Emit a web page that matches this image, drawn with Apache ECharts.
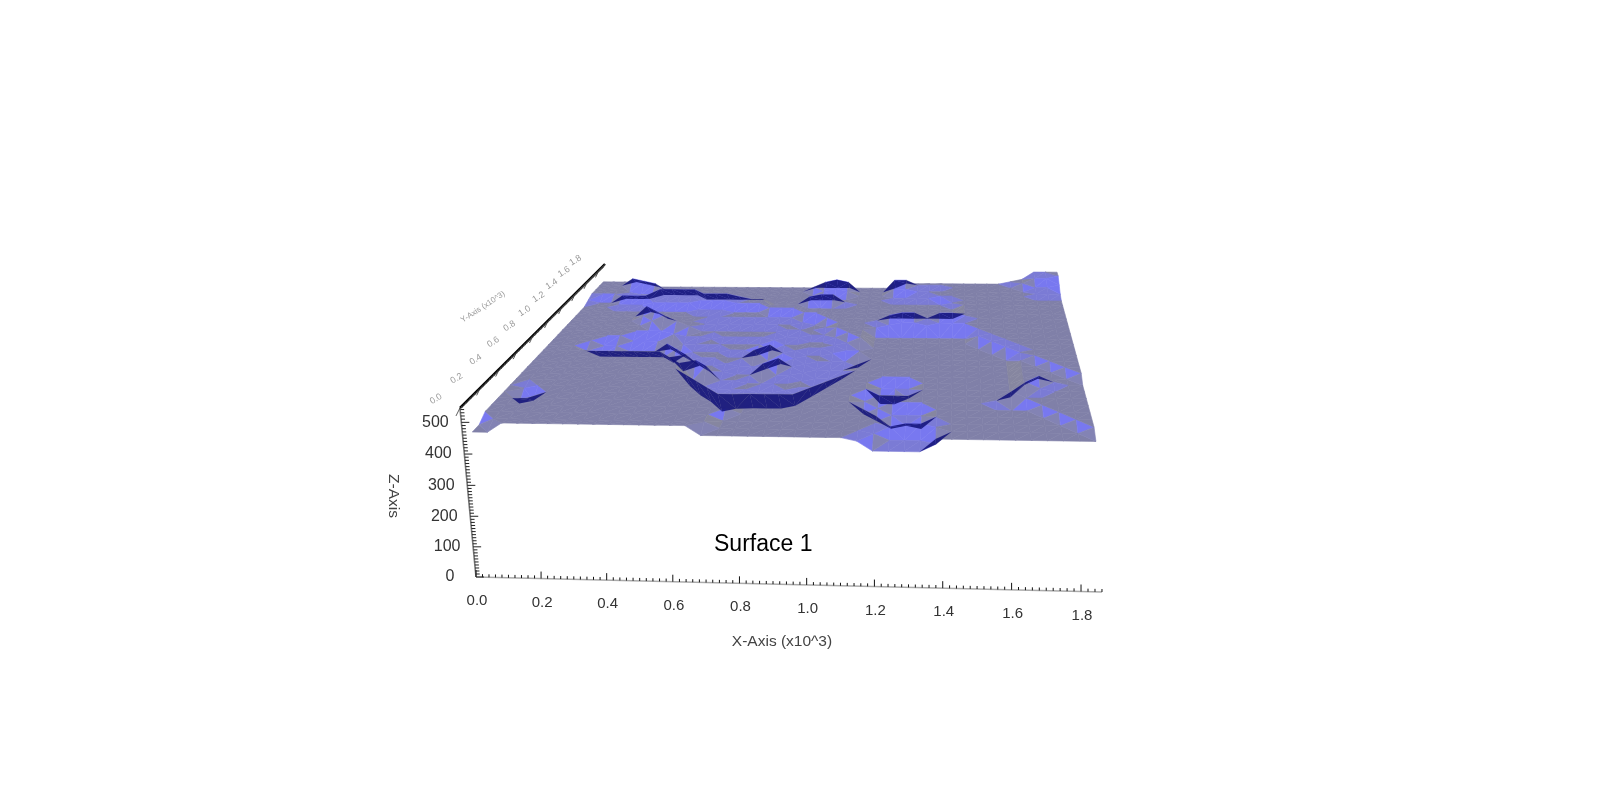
<!DOCTYPE html>
<html><head><meta charset="utf-8"><style>html,body{margin:0;background:#fff}#c{width:1616px;height:805px}</style>
<script src="https://cdn.jsdelivr.net/npm/echarts@6/dist/echarts.min.js"></script></head>
<body><div id="c"></div><script>
// Surface heights, far row first. '.'=plateau, 1-9 above it, a-l below it (steps of zStep). Columns grouped 9/16/16.
const surfaceRows=[
"22221.... ................ ..22222222234777",
"222543... ..........2454.. .553332222224667",
"2221..... ...........232.. .332222222222445",
"222...444 4............... .111122222222333",
"1..333333 3444322...3441.. ......1222222222",
"...111222 2333222111...... .......222222222",
"......... .111...22211.... .......222222222",
"......41. ..........221... .......222222222",
"......241 ..aaaaaaaa.a21.. 1344244322222222",
".......24 2.bbbbbbbaaa.21. .122122222222222",
"......... abbcbbbbcbbaa221 bbbbbbbb22222222",
"......bbb eccccccceccbb.21 bbbbbbbb12222222",
"....bbddd aedddcceadcbba.2 bbbbbbbbb1222222",
"...bddddd daeddddaefdccbaa bbbbbbbbbb122222",
"......... .daeedeefbedccce bbbbbbbbbbb12222",
"......... ..eaeeffbffedddb bbbbbbbbbbb.2222",
"......... ...faffggggfeeeb bbbbbbbbbbb..222",
"......... ...ffggghhgfffbb bbbbbbbbbbb...22",
"......... ....ghhhiihggbbb bdddbbbbbbb....2",
"......... .....ghiiiihbbbb bggebbbbbbb.31..",
".a....... ......hgbbbbbbbb dbbbbbbbbbb31...",
".dc...... ........bbbbbbbb fdbbbbbbba2.....",
"......... ........bbbbbbbb bfdddbbbbbbb....",
"......... ........bbbbbbbb bbfefbbbbbbbb...",
"......... .......bbbbbbbbb bbcbbcbbbbbbbb..",
"b........ .......bbbbbbbbb bceeefbbbbbbbbb.",
"bb1111111 111111bbbbbbbbbb cffffbbbbbbbbbbb"
].map(s=>s.replace(/ /g,''));
const zPlateau=490, zStep=10;
const xGridStart=0.03, xGridStep=0.045, yGridStep=0.0665;
const xTicks=[0,0.2,0.4,0.6,0.8,1.0,1.2,1.4,1.6,1.8];
const yTicks=[0,0.2,0.4,0.6,0.8,1.0,1.2,1.4,1.6,1.8];
const zTicks=[0,100,200,300,400,500];
const xAxisMax=1.86,yAxisMax=1.9,zAxisMax=545;

function project(x,y,z,dx,dy){
  const u=x/xAxisMax,v=y/yAxisMax,t=z/zAxisMax,w=1-.037*u+.4*v-.033*t;
  return [(476+585.2*u+382.2*v-31.2*t)/w+(dx||0),(577-6.9*u-33.6*v-182.5*t)/w+(dy||0)];
}
function level(ch){
  if(ch==='.')return 0;
  if(ch>='1'&&ch<='9')return +ch;
  return -(ch.charCodeAt(0)-96);
}
const heights=surfaceRows.slice().reverse().map(r=>r.split('').map(level));
const GREY=[128,128,168],LIT=[120,120,240],SIDE=[134,134,160],NAVY='rgba(18,18,122,0.88)';
const front=[],back=[];
function addTri(a,b,c){
  const sa=project(...a.w),sb=project(...b.w),sc=project(...c.w);
  const cross=(sb[0]-sa[0])*(sc[1]-sa[1])-(sb[1]-sa[1])*(sc[0]-sa[0]);
  const e1=[b.c-a.c,b.r-a.r,b.h-a.h],e2=[c.c-a.c,c.r-a.r,c.h-a.h];
  const nx=e1[1]*e2[2]-e1[2]*e2[1],ny=e1[2]*e2[0]-e1[0]*e2[2],nz=e1[0]*e2[1]-e1[1]*e2[0];
  const gy=-ny/nz,gx=-nx/nz;
  const tri={pts:[a.w,b.w,c.w]};
  if(cross>0){tri.color=NAVY;back.push(tri);return;}
  const top=Math.max(a.h,b.h,c.h);
  const atTop=[a,b,c].filter(p=>p.h===top).length;
  let s=Math.max(0,Math.min(1,gy/1.6));
  let base=GREY;
  if(Math.abs(gx)>=1.5&&gy>=1.5&&atTop===1){s=0.25;base=SIDE;}
  else if(gy<0.3&&Math.abs(gx)>=2){base=SIDE;}
  tri.color='rgb('+base.map((g,i)=>Math.round(g+(LIT[i]-g)*s)).join(',')+')';
  front.push(tri);
}
function vtx(c,r){const h=heights[r][c];return {c,r,h,w:[xGridStart+c*xGridStep,r*yGridStep,zPlateau+h*zStep]};}
for(let r=heights.length-2;r>=0;r--){
  for(let c=0;c<heights[r].length-1;c++){
    const p00=vtx(c,r),p10=vtx(c+1,r),p01=vtx(c,r+1),p11=vtx(c+1,r+1);
    if(Math.abs(p00.h-p11.h)>Math.abs(p10.h-p01.h)){addTri(p00,p10,p01);addTri(p10,p11,p01);}
    else{addTri(p00,p10,p11);addTri(p00,p11,p01);}
  }
}
const lines=[];
function seg(a,b,color,width){lines.push({a,b,color,width});}
seg(project(0,0,0),project(xAxisMax,0,0),'#aaa',1.5);
seg(project(0,0,0),project(0,0,zAxisMax),'#777',1.6);
seg(project(0,0,zAxisMax),project(0,yAxisMax,zAxisMax),'#000',2.4);
for(let i=0;i<=93;i++){const x=i*0.02,maj=i%10===0;const p=project(x,0,0);seg(p,[p[0],p[1]-(maj?7:3)],'#111',1);}
for(let i=0;i<=54;i++){const z=i*10,maj=i%10===0;const p=project(0,0,z);seg(p,[p[0]+(maj?8:4),p[1]],'#222',1);}
for(let i=0;i<=95;i++){const y=i*0.02,maj=i%10===0;const p=project(0,y,zAxisMax);seg(p,[p[0]-(maj?4:2),p[1]+(maj?8:4)],i%2?'#555':'#333',0.8);}
const F='"Liberation Sans",Arial,sans-serif';
const texts=[];
xTicks.forEach(x=>{const p=project(x,0,0,1,24);texts.push({t:x.toFixed(1),p,size:15,fill:'#333'});});
zTicks.forEach(z=>{const p=project(0,0,z,-26,0);texts.push({t:String(z),p,size:16,fill:'#333'});});
yTicks.forEach(y=>{const p=project(0,y,zAxisMax,-24,-9);texts.push({t:y.toFixed(1),p,size:9,fill:'#999',rot:0.55});});
texts.push({t:'X-Axis (x10^3)',p:[782,642],size:15.5,fill:'#444'});
texts.push({t:'Z-Axis',p:[393,496],size:15.5,fill:'#444',rot:-Math.PI/2});
texts.push({t:'Y-Axis (x10^3)',p:[483,307],size:8,fill:'#999',rot:0.58});

function triSeries(list,z,opts){
  return {type:'custom',coordinateSystem:'cartesian2d',z,silent:true,clip:false,animation:false,progressive:0,
    data:list.map((_,i)=>[i]),
    renderItem(params,api){
      const tri=list[params.dataIndex];
      const pts=tri.pts.map(p=>api.coord(project(...p)));
      return {type:'polygon',shape:{points:pts},style:opts.stroke?{fill:tri.color,stroke:tri.color,lineWidth:.6}:{fill:tri.color}};
    }};
}
const chart=echarts.init(document.getElementById('c'),null,{renderer:'canvas'});
chart.setOption({
  backgroundColor:'#fff',animation:false,
  title:{text:'Surface 1',left:714,top:533,padding:0,textStyle:{fontFamily:F,fontSize:23,fontWeight:'normal',color:'#000'}},
  grid:{left:0,top:0,right:0,bottom:0},
  xAxis:{type:'value',min:0,max:1616,show:false},
  yAxis:{type:'value',min:0,max:805,inverse:true,show:false},
  series:[
    triSeries(front,2,{stroke:true}),
    triSeries(back,3,{stroke:false}),
    {type:'custom',coordinateSystem:'cartesian2d',z:4,silent:true,clip:false,animation:false,progressive:0,
      data:lines.map((_,i)=>[i]),
      renderItem(params,api){const l=lines[params.dataIndex];const a=api.coord(l.a),b=api.coord(l.b);
        return {type:'line',shape:{x1:a[0],y1:a[1],x2:b[0],y2:b[1]},style:{stroke:l.color,lineWidth:l.width}};}},
    {type:'custom',coordinateSystem:'cartesian2d',z:5,silent:true,clip:false,animation:false,progressive:0,
      data:texts.map((_,i)=>[i]),
      renderItem(params,api){const t=texts[params.dataIndex];const p=api.coord(t.p);
        return {type:'text',x:p[0],y:p[1],rotation:t.rot||0,style:{text:t.t,fontFamily:F,fontSize:t.size,fill:t.fill,align:'center',verticalAlign:'middle'}};}}
  ]
});
</script></body></html>
